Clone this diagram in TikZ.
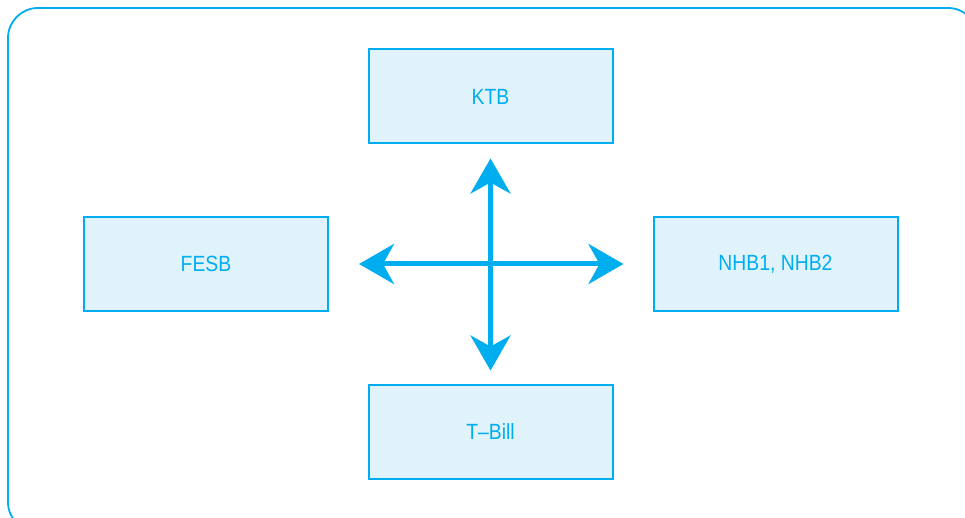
\documentclass[tikz,border=0pt]{standalone}
\usepackage{fontspec}
\setmainfont{Liberation Sans}
\newfontfamily\labelfont[FakeStretch=0.88]{Liberation Sans}
\usetikzlibrary{arrows.meta}
\definecolor{cyanline}{HTML}{00AEEF}
\definecolor{boxfill}{HTML}{E0F2FA}
\tikzset{
  market/.style={draw=cyanline, line width=2pt, fill=boxfill,
    minimum width=244pt, minimum height=94pt, inner sep=0pt,
    text=cyanline, font=\labelfont\fontsize{22}{26}\selectfont},
  flow/.style={draw=cyanline, line width=5pt,
    {Stealth[length=35pt,width=40pt,inset=11pt]}-{Stealth[length=35pt,width=40pt,inset=11pt]}},
}
\begin{document}
\begin{tikzpicture}[x=1pt,y=-1pt]
\useasboundingbox (0,0) rectangle (965,518);
\begin{scope}
\clip (0,0) rectangle (965,518);
\draw[cyanline, line width=1.8pt, rounded corners=30pt] (8,8) rectangle (978,532);
\end{scope}
\node[market] (ktb) at (490.5,96.5) {KTB};
\node[market] (tbill) at (490.5,431.5) {T–Bill};
\node[market] (fesb) at (206,264) {FESB};
\node[market] (nhb) at (775.5,264) {NHB1, NHB2};
\draw[flow, shorten <=14pt, shorten >=13pt] (ktb.south) -- (tbill.north);
\draw[flow, shorten <=30pt, shorten >=29pt] (fesb.east) -- (nhb.west);
\end{tikzpicture}
\end{document}
